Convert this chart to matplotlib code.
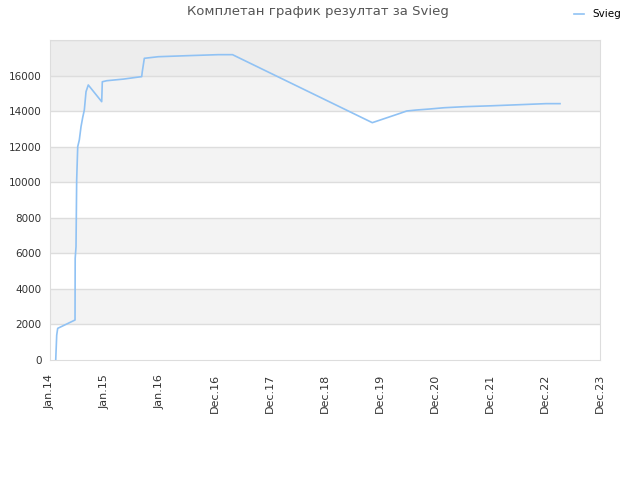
import matplotlib
matplotlib.use("Agg")
import matplotlib.pyplot as plt

# years since Jan 2014 (one tick step per year) and score values
years = [0.104, 0.122, 0.14, 0.455, 0.458, 0.473, 0.485, 0.504, 0.533, 0.564,
         0.595, 0.624, 0.655, 0.696, 0.94, 0.951, 1.031, 1.333, 1.667, 1.678,
         1.715, 1.969, 2.515, 3.06, 3.318, 5.86, 6.364, 6.485, 6.655, 6.909,
         7.164, 7.545, 8.03, 8.527, 9.018, 9.273]
scores = [0, 1400, 1780, 2250, 5720, 6375, 10125, 12000, 12375, 13125,
          13650, 14060, 15094, 15470, 14530, 15650, 15710, 15800, 15940, 16220,
          16970, 17060, 17120, 17175, 17175, 13350, 13875, 14006, 14060, 14120,
          14190, 14250, 14300, 14360, 14420, 14420]

tick_labels = ["Jan.14", "Jan.15", "Jan.16", "Dec.16", "Dec.17", "Dec.18",
               "Dec.19", "Dec.20", "Dec.21", "Dec.22", "Dec.23"]
y_ticks = [0, 2000, 4000, 6000, 8000, 10000, 12000, 14000, 16000]
band_colors = ["#ffffff", "#f3f3f3", "#ffffff", "#f3f3f3", "#ffffff",
               "#f3f3f3", "#ffffff", "#f3f3f3", "#ededed"]

fig = plt.figure(figsize=(6.4, 4.8), dpi=100)
ax = fig.add_axes([50 / 640, 1 - 360 / 480, 550 / 640, 320 / 480])

for i, c in enumerate(band_colors):
    ax.axhspan(i * 2000, (i + 1) * 2000, color=c, zorder=0, lw=0)
for v in y_ticks[1:] + [18000]:
    ax.axhline(v, color="#dddddd", lw=1, zorder=1)

ax.plot(years, scores, color="#90c2f4", lw=1.2, label="Svieg", zorder=3)

ax.set_xlim(0, 10)
ax.set_ylim(0, 18000)
ax.set_xticks(range(len(tick_labels)))
ax.set_xticklabels(tick_labels, rotation=90, fontsize=8, color="#333333")
ax.set_yticks(y_ticks)
ax.set_yticklabels([str(v) for v in y_ticks], fontsize=7.5, color="#333333")
ax.tick_params(length=0)
ax.tick_params(axis="x", pad=10)
ax.tick_params(axis="y", pad=6)
for s in ax.spines.values():
    s.set_color("#dddddd")

fig.text(0.497, 0.975, "Комплетан график резултат за Svieg", ha="center", va="center",
         fontsize=9.5, color="#555555")
fig.legend(loc="upper right", bbox_to_anchor=(0.985, 1.0), frameon=False,
           fontsize=7.5, handlelength=1.0, handletextpad=0.8)

fig.savefig("out.png")
